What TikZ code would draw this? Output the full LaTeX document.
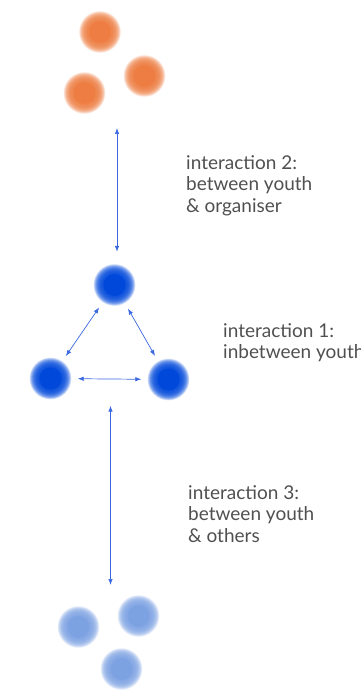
\documentclass[tikz,border=0pt]{standalone}
\usepackage{fontspec}
\setmainfont{Lato}
\usepackage{color}
\definecolor{organiser}{RGB}{237,125,66}
\definecolor{youth}{RGB}{0,72,218}
\definecolor{others}{RGB}{125,162,226}
\definecolor{linkblue}{RGB}{60,105,225}
\definecolor{labelgray}{RGB}{80,80,80}
\usetikzlibrary{calc,arrows.meta,positioning}
\tikzset{
  blob/.style={circle,minimum size=54pt,inner sep=0pt,
    path picture={
      \foreach \r in {21,20.75,...,11}
        \fill[#1,opacity=0.07] (path picture bounding box.center) circle (\r pt);
      \fill[#1] (path picture bounding box.center) circle (11pt);
    }},
  link/.style={linkblue,line width=0.7pt,
    {Latex[length=6pt,width=4.5pt]}-{Latex[length=6pt,width=4.5pt]}},
  caption/.style={labelgray,font=\fontsize{19}{21.7}\selectfont,
    align=left,anchor=north west,inner sep=0pt},
}

\begin{document}
\begin{tikzpicture}[x=1pt,y=-1pt]
\useasboundingbox (0,0) rectangle (360,692);

% organiser
\node [blob=organiser] (o1) at (100,32) {};
\node [blob=organiser] (o2) at (144.5,76) {};
\node [blob=organiser] (o3) at (84.5,93) {};

% youth
\node [blob=youth] (y1) at (114.5,285) {};
\node [blob=youth] (y2) at (50.5,378.5) {};
\node [blob=youth] (y3) at (168.5,379.5) {};

% others
\node [blob=others] (x1) at (78.5,627) {};
\node [blob=others] (x2) at (138.5,616) {};
\node [blob=others] (x3) at (121.5,669) {};

\coordinate (orgend) at (117,128);
\coordinate (othend) at (110.5,585);

\draw [link, shorten >=6pt] (orgend) -- (orgend |- y1.north);
\draw [link] (y1) -- (y2);
\draw [link] (y1) -- (y3);
\draw [link] (y2) -- (y3);
\draw [link] (othend |- y2.south) -- (othend);

\node [caption] (t2) at (186,155) {interaction 2:\\between youth\\\& organiser};
\node [caption] (t1) at (223,323) {interaction 1:\\inbetween youth};
\node [caption] (t3) at (188,485) {interaction 3:\\between youth\\\& others};

\end{tikzpicture}
\end{document}
